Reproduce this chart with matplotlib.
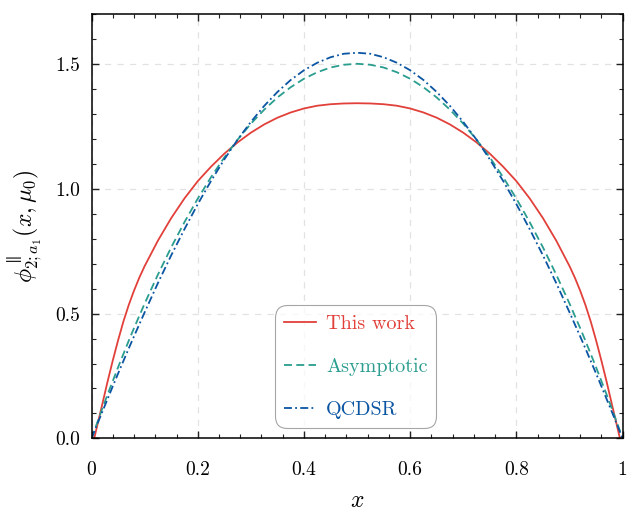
import matplotlib
matplotlib.use("Agg")
import matplotlib.pyplot as plt
from matplotlib.ticker import MultipleLocator

# fonts: Computer Modern look
plt.rcParams['font.family'] = 'serif'
plt.rcParams['font.serif'] = ['cmr10', 'DejaVu Serif']
plt.rcParams['mathtext.fontset'] = 'cm'
plt.rcParams['axes.formatter.use_mathtext'] = True

# values
x_vals = [0.0, 0.005, 0.01, 0.02, 0.03, 0.04, 0.05, 0.06, 0.07, 0.08, 0.09, 0.10,
          0.125, 0.15, 0.175, 0.2, 0.225, 0.25, 0.275, 0.3, 0.325, 0.35, 0.375,
          0.4, 0.425, 0.45, 0.475, 0.5,
          0.525, 0.55, 0.575, 0.6, 0.625, 0.65, 0.675, 0.7, 0.725, 0.75, 0.775,
          0.8, 0.825, 0.85, 0.875, 0.9, 0.91, 0.92, 0.93, 0.94, 0.95, 0.96,
          0.97, 0.98, 0.99, 0.995, 1.0]

this_work = [-0.045, 0.0, 0.045, 0.135, 0.226, 0.312, 0.393, 0.468, 0.534, 0.592, 0.644, 0.690,
             0.792, 0.882, 0.961, 1.030, 1.088, 1.140, 1.185, 1.224, 1.257, 1.284, 1.305,
             1.321, 1.332, 1.338, 1.341, 1.342,
             1.341, 1.338, 1.332, 1.321, 1.305, 1.284, 1.257, 1.224, 1.185, 1.140, 1.088,
             1.030, 0.961, 0.882, 0.792, 0.690, 0.644, 0.592, 0.534, 0.468, 0.393, 0.312,
             0.226, 0.135, 0.045, 0.0, -0.045]

asymptotic = [0.0, 0.030, 0.059, 0.118, 0.175, 0.230, 0.285, 0.338, 0.391, 0.442, 0.491, 0.540,
              0.656, 0.765, 0.866, 0.960, 1.046, 1.125, 1.196, 1.260, 1.316, 1.365, 1.406,
              1.440, 1.466, 1.485, 1.496, 1.500,
              1.496, 1.485, 1.466, 1.440, 1.406, 1.365, 1.316, 1.260, 1.196, 1.125, 1.046,
              0.960, 0.866, 0.765, 0.656, 0.540, 0.491, 0.442, 0.391, 0.338, 0.285, 0.230,
              0.175, 0.118, 0.059, 0.030, 0.0]

qcdsr = [0.0, 0.026, 0.053, 0.105, 0.157, 0.209, 0.260, 0.310, 0.360, 0.409, 0.457, 0.505,
         0.622, 0.733, 0.838, 0.938, 1.031, 1.117, 1.196, 1.267, 1.331, 1.387, 1.435,
         1.474, 1.504, 1.526, 1.540, 1.544,
         1.540, 1.526, 1.504, 1.474, 1.435, 1.387, 1.331, 1.267, 1.196, 1.117, 1.031,
         0.938, 0.838, 0.733, 0.622, 0.505, 0.457, 0.409, 0.360, 0.310, 0.260, 0.209,
         0.157, 0.105, 0.053, 0.026, 0.0]

labels = ["This work", "Asymptotic", "QCDSR"]
colors = ["#E2403A", "#2A9D8F", "#0B55A3"]

xticks = [0, 0.2, 0.4, 0.6, 0.8, 1.0]
xtick_labels = ["0", "0.2", "0.4", "0.6", "0.8", "1"]
yticks = [0.0, 0.5, 1.0, 1.5]
ytick_labels = ["0.0", "0.5", "1.0", "1.5"]

fig = plt.figure(figsize=(6.27, 5.11), dpi=100)
ax = fig.add_axes([0.146, 0.142, 0.847, 0.831])

ax.plot(x_vals, this_work, color=colors[0], lw=1.3, ls='-', label=labels[0])
ax.plot(x_vals, asymptotic, color=colors[1], lw=1.3, ls=(0, (4.4, 2.4)), label=labels[1])
ax.plot(x_vals, qcdsr, color=colors[2], lw=1.3, ls=(0, (4.4, 1.8, 1.0, 1.8)), label=labels[2])

ax.set_xlim(0, 1)
ax.set_ylim(0, 1.7)
ax.set_xticks(xticks)
ax.set_xticklabels(xtick_labels)
ax.set_yticks(yticks)
ax.set_yticklabels(ytick_labels)
ax.xaxis.set_minor_locator(MultipleLocator(0.04))
ax.yaxis.set_minor_locator(MultipleLocator(0.1))
ax.tick_params(which='both', direction='in', top=True, right=True, labelsize=14, color='#222222')
ax.tick_params(which='major', length=5, width=1.0)
ax.tick_params(which='minor', length=3, width=0.8)
ax.tick_params(axis='x', which='major', pad=16)
ax.tick_params(axis='y', which='major', pad=8)
for s in ax.spines.values():
    s.set_linewidth(1.1)

ax.grid(True, which='major', ls=(0, (5, 5)), color='#e2e2e2', lw=0.9)
ax.set_axisbelow(True)

ax.set_xlabel(r'$x$', fontsize=17, labelpad=8)
ax.set_ylabel(r'$\phi^{\parallel}_{2;a_1}(x,\mu_0)$', fontsize=17, labelpad=8)

leg = ax.legend(loc='lower center', bbox_to_anchor=(0.497, 0.024), borderaxespad=0,
                fontsize=14.5, labelspacing=1.25, handlelength=1.6, handletextpad=0.5,
                borderpad=0.45, fancybox=True, framealpha=0.75, edgecolor='#888888')
leg.get_frame().set_linewidth(0.8)
leg.get_frame().set_boxstyle('round,pad=0,rounding_size=0.6')
for txt, c in zip(leg.get_texts(), colors):
    txt.set_color(c)

fig.savefig("out.png", dpi=100)
